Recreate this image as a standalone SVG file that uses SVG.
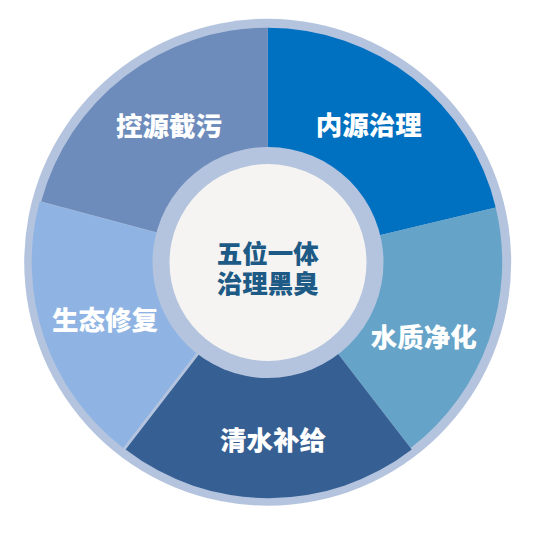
<svg xmlns="http://www.w3.org/2000/svg" width="538" height="538" viewBox="0 0 538 538">
  <style>
    .lbl { font-family: "Noto Sans CJK SC", "Noto Sans", sans-serif; font-weight: 900; font-size: 26.5px; fill: #ffffff; text-anchor: middle; dominant-baseline: central; }
    .ctr { font-family: "Noto Sans CJK SC", "Noto Sans", sans-serif; font-weight: 900; font-size: 25.5px; fill: #1d5a85; text-anchor: middle; dominant-baseline: central; }
    .ring { fill: #b4c4de; }
  </style>
  <rect width="538" height="538" fill="#ffffff"/>
  <circle class="ring" cx="267.7" cy="262.2" r="243.5"/>

  <g id="node-neiyuan">
    <path fill="#0070c0" d="M267.7,27.7 A234.5,234.5 0 0 1 495.72,207.46 L364.94,238.85 A100,100 0 0 0 267.7,162.2 Z"/>
    <text class="lbl" x="368.7" y="123">内源治理</text>
  </g>
  <g id="node-shuizhi">
    <path fill="#65a4c8" d="M495.72,207.46 A234.5,234.5 0 0 1 410.75,448.01 L328.7,341.44 A100,100 0 0 0 364.94,238.85 Z"/>
    <text class="lbl" x="423.7" y="335">水质净化</text>
  </g>
  <g id="node-shengtai">
    <path fill="#8fb4e3" transform="translate(-1.5,0)" d="M124.65,448.01 A234.5,234.5 0 0 1 41.19,201.51 L171.11,236.32 A100,100 0 0 0 206.7,341.44 Z"/>
    <text class="lbl" x="105" y="318">生态修复</text>
  </g>
  <g id="node-kongyuan">
    <path fill="#6e8cbb" d="M41.19,201.51 A234.5,234.5 0 0 1 267.7,27.7 L267.7,162.2 A100,100 0 0 0 171.11,236.32 Z"/>
    <text class="lbl" x="169" y="124">控源截污</text>
  </g>
  <g id="node-qingshui">
    <path fill="#365f93" transform="translate(1,1.5)" d="M410.75,448.01 A234.5,234.5 0 0 1 124.65,448.01 L206.7,341.44 A100,100 0 0 0 328.7,341.44 Z"/>
    <text class="lbl" x="273" y="438.7">清水补给</text>
  </g>

  <g id="node-center">
    <circle class="ring" cx="268" cy="262.5" r="115.5"/>
    <circle fill="#f5f4f2" cx="268" cy="262.5" r="98.5"/>
    <text class="ctr" x="267.8" y="251"><tspan x="267.8" y="251">五位一体</tspan><tspan x="267.8" y="281.3">治理黑臭</tspan></text>
  </g>
</svg>
